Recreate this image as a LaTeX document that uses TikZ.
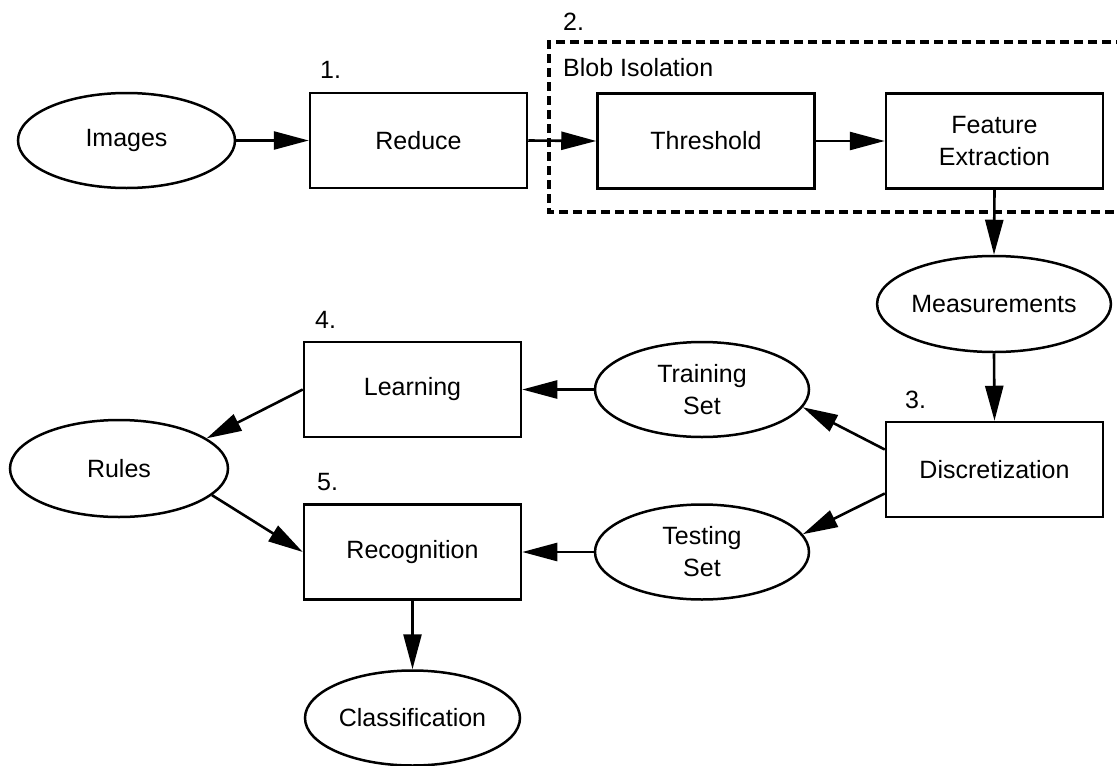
\documentclass[tikz,border=0pt]{standalone}
\usepackage{fontspec}
\setmainfont{Liberation Sans}
\usetikzlibrary{arrows.meta,shapes.geometric}
\begin{document}
\begin{tikzpicture}[x=1pt,y=-1pt,
  every node/.style={font=\fontsize{25}{32}\selectfont},
  procbox/.style={draw,line width=2.5pt,rectangle,minimum width=217pt,minimum height=95pt,inner sep=0pt,align=center},
  databox/.style={draw,line width=2.5pt,ellipse,minimum width=217pt,minimum height=95pt,inner sep=0pt,align=center},
  lbl/.style={anchor=west,inner sep=0pt},
  conn/.style={line width=2.6pt,-{Triangle[length=35pt,width=18pt]}},
  group/.style={line width=3.6pt,dash pattern=on 9pt off 5pt}
]
\useasboundingbox (0,0) rectangle (1117,766);
\draw[group] (1125,42) -- (549,42) -- (549,212) -- (1125,212);
\node[databox] (images) at (126.5,140.5) {Images};
\node[procbox] (reduce) at (418.5,140.5) {Reduce};
\node[procbox] (thresh) at (706,141) {Threshold};
\node[procbox] (feat) at (994.5,141) {Feature\\Extraction};
\node[databox,minimum width=218pt,minimum height=96pt] (meas) at (994,304) {Measurements};
\node[procbox] (disc) at (994.5,469.5) {Discretization};
\node[databox,minimum width=214pt] (train) at (702,389.5) {Training\\Set};
\node[databox,minimum width=214pt] (test) at (702,552) {Testing\\Set};
\node[procbox] (learn) at (412.5,389.5) {Learning};
\node[procbox] (recog) at (412.5,552) {Recognition};
\node[databox,minimum width=218pt,minimum height=97pt] (rules) at (119,468.5) {Rules};
\node[databox,minimum width=215pt] (class) at (412.5,718) {Classification};
\node[lbl] (l1) at (320,70) {1.};
\node[lbl] (l2) at (563,22) {2.};
\node[lbl] (lblob) at (563,68) {Blob Isolation};
\node[lbl] (l3) at (905,400) {3.};
\node[lbl] (l4) at (315,320) {4.};
\node[lbl] (l5) at (317,482) {5.};
\draw[conn] (images.east) -- (reduce.west);
\draw[conn] (reduce.east) -- (thresh.west);
\draw[conn] (thresh.east) -- (feat.west);
\draw[conn] (feat.south) -- (meas.north);
\draw[conn] (meas.south) -- (disc.north);
\draw[conn] ([yshift=20pt]disc.west) -- (train.-10);
\draw[conn] ([yshift=-24pt]disc.west) -- (test.10);
\draw[conn] (train.west) -- (learn.east);
\draw[conn] (test.west) -- (recog.east);
\draw[conn] (learn.west) -- (rules.19);
\draw[conn] (rules.-16) -- (recog.west);
\draw[conn] (recog.south) -- (class.north);
\end{tikzpicture}
\end{document}
